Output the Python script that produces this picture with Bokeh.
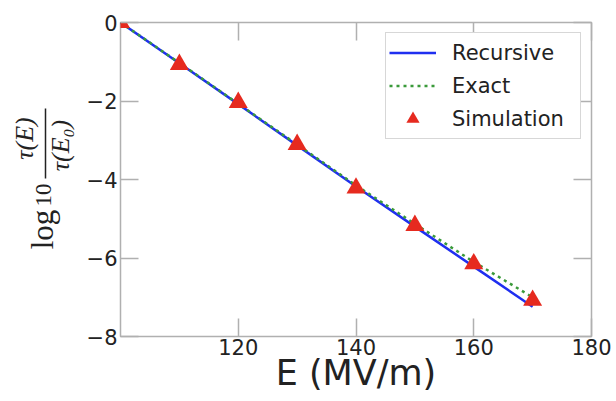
import numpy as np
from bokeh.plotting import figure
from bokeh.layouts import row
from bokeh.models import Range1d, FixedTicker, LinearAxis
from bokeh.core.properties import value
from bokeh.embed import file_html
from bokeh.resources import INLINE

# ---- data ----
E = [100, 110, 120, 130, 140, 150, 160, 170]
recursive = [0.0, -1.04, -2.08, -3.13, -4.18, -5.20, -6.22, -7.24]
exact = [0.0, -1.03, -2.07, -3.11, -4.15, -5.13, -6.10, -7.00]
sim_E = [100, 110, 120, 130, 140, 150, 160, 170]
simulation = [0.0, -1.07, -2.04, -3.11, -4.22, -5.17, -6.15, -7.08]

x_ticks = [120, 140, 160, 180]
y_ticks = [-8, -6, -4, -2, 0]
y_tick_labels = ["\u22128", "\u22126", "\u22124", "\u22122", "0"]
x_tick_labels = ["120", "140", "160", "180"]
x_label = "E (MV/m)"

GRAY = "#b0b0b0"
TXT = "#222222"
H = 399
LW = 80  # width of the y-label strip
TOP, BOT = 22, 63  # frame borders shared by both panels

# ---------------- main plot ----------------
p = figure(width=532, height=H, output_backend="svg", toolbar_location=None,
           x_range=Range1d(100, 180), y_range=Range1d(-8, 0),
           min_border_left=40, min_border_right=21, min_border_top=TOP, min_border_bottom=BOT,
           x_axis_location=None, y_axis_location=None)
p.grid.visible = False
p.outline_line_color = GRAY
p.outline_line_width = 1.5

def make_axis(ticks, labels, show_labels):
    ax = LinearAxis(ticker=FixedTicker(ticks=ticks))
    ax.axis_line_color = None
    ax.major_tick_in = 18
    ax.major_tick_out = 0
    ax.major_tick_line_color = GRAY
    ax.major_tick_line_width = 1.5
    ax.minor_tick_line_color = None
    if show_labels:
        ax.major_label_overrides = {t: l for t, l in zip(ticks, labels)}
        ax.major_label_text_font = "DejaVu Sans"
        ax.major_label_text_font_size = "21px"
        ax.major_label_text_color = TXT
    else:
        ax.major_label_overrides = {t: "" for t in ticks}
        ax.major_label_text_font_size = "0px"
        ax.major_label_standoff = 0
    return ax

bottom = make_axis(x_ticks, x_tick_labels, True)
bottom.major_label_standoff = 2
bottom.axis_label = x_label
bottom.axis_label_text_font = "DejaVu Sans"
bottom.axis_label_text_font_size = "35px"
bottom.axis_label_text_font_style = "normal"
bottom.axis_label_text_color = TXT
bottom.axis_label_standoff = -5
left = make_axis(y_ticks, y_tick_labels, True)
left.major_label_standoff = 3
top = make_axis(x_ticks, x_tick_labels, False)
right = make_axis(y_ticks, y_tick_labels, False)
p.add_layout(bottom, "below")
p.add_layout(left, "left")
p.add_layout(top, "above")
p.add_layout(right, "right")

p.line(E, recursive, line_color="#1f2ff0", line_width=2.5, legend_label="Recursive")
p.line(E, exact, line_color="#3a9a3a", line_width=2.5, line_dash="3 4", legend_label="Exact")
p.scatter(sim_E, simulation, marker="triangle", size=19, fill_color="#e62a1f",
          line_color=None, legend_label="Simulation")

lg = p.legend[0]
lg.location = "top_right"
lg.margin = 10
lg.padding = 3
lg.spacing = 0
lg.glyph_width = 47
lg.glyph_height = 33
lg.label_standoff = 16
lg.label_width = 125
lg.label_text_font = "DejaVu Sans"
lg.label_text_font_size = "21px"
lg.label_text_color = TXT
lg.border_line_color = GRAY
lg.border_line_width = 1.5
lg.background_fill_alpha = 1.0

# ---------------- y-label strip: log10 tau(E)/tau(E0) ----------------
# the row layout aligns this panel's frame with the main frame, so map its
# y range onto the same pixel rows (y = H - page_y)
q = figure(width=LW, height=H, output_backend="svg", toolbar_location=None,
           x_range=Range1d(0, LW), y_range=Range1d(BOT, H - TOP), min_border=0,
           x_axis_location=None, y_axis_location=None)
q.grid.visible = False
q.outline_line_color = None

ang = np.pi / 2
common = dict(angle=ang, text_align="center", text_baseline="middle",
              text_font=value("Liberation Serif"), text_color=TXT)
q.text(x=[42.2], y=[H - 229], text=["log"], text_font_size=value("31px"), **common)
q.text(x=[43.0], y=[H - 194.5], text=["10"], text_font_size=value("23px"), **common)
q.text(x=[23.6], y=[H - 138], text=["\u03c4(E)"], text_font_style="italic",
       text_font_size=value("26px"), **common)
q.text(x=[59.5], y=[H - 145], text=["\u03c4(E\u2080)"], text_font_style="italic",
       text_font_size=value("26px"), **common)
q.segment(x0=[45], y0=[H - 108], x1=[45], y1=[H - 178], line_color=TXT, line_width=1.5)

layout = row(q, p)
open("out.html", "w").write(file_html(layout, INLINE))
